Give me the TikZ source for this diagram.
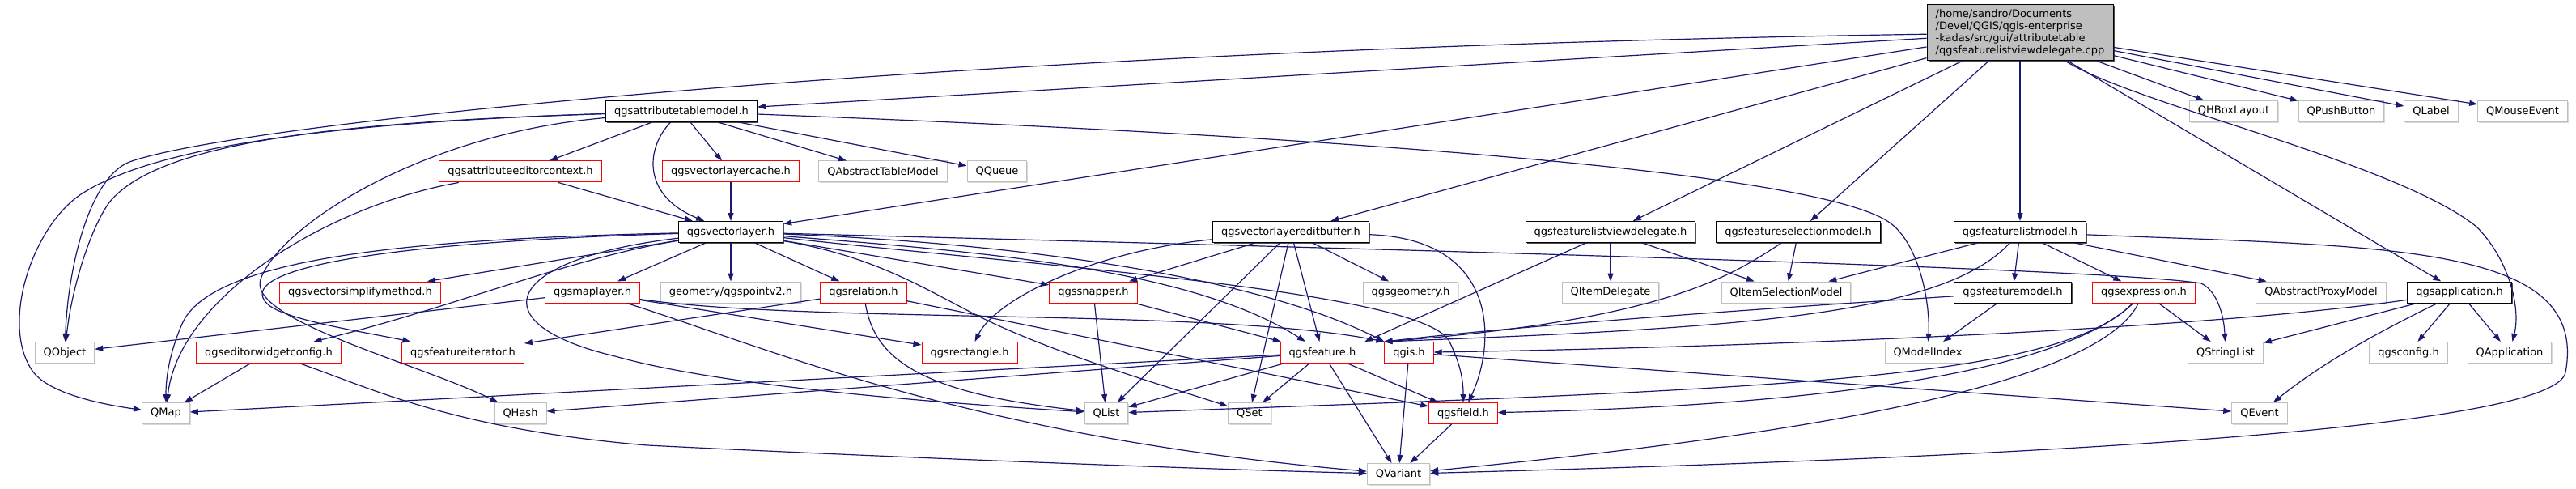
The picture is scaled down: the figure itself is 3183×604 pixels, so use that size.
\documentclass[tikz,border=0pt]{standalone}
\usepackage{fontspec}
\setmainfont{DejaVu Sans}
\usepackage{tikz}
\usetikzlibrary{positioning,arrows.meta,shadows}
\definecolor{edgecol}{RGB}{25,25,112}
\definecolor{srcfill}{RGB}{191,191,191}
\definecolor{extline}{RGB}{191,191,191}

\begin{document}
\begin{tikzpicture}[
  x=1pt, y=-1pt,
  every node/.style={font=\fontsize{13}{15}\selectfont},
  box/.style={rectangle, fill=white, minimum height=26pt, inner xsep=10.5pt, inner ysep=2pt, line width=1pt},
  hdr/.style={box, draw=black,
              drop shadow={shadow xshift=1.5pt, shadow yshift=-1.5pt, fill=black!70, opacity=1}},
  trunc/.style={box, draw=red},
  ext/.style={box, draw=extline,
              drop shadow={shadow xshift=1.2pt, shadow yshift=-1.2pt, fill=black!15, opacity=1}},
  src/.style={rectangle, draw=black, fill=srcfill, line width=1pt, align=left,
              minimum width=230pt, minimum height=69pt, inner xsep=10.5pt,
              drop shadow={shadow xshift=1.5pt, shadow yshift=-1.5pt, fill=black!70, opacity=1}},
  dep/.style={draw=edgecol, line width=1.2pt, -{Triangle[length=10pt,width=7pt]}}
]
  \useasboundingbox (0,0) rectangle (3183,604);

  \node[src] (cpp) at (2496,40.5) {/home/sandro/Documents\\/Devel/QGIS/qgis-enterprise\\-kadas/src/gui/attributetable\\/qgsfeaturelistviewdelegate.cpp};

  \node[hdr] (atm) at (842,137.5) {qgsattributetablemodel.h};
  \node[ext] (qhbox) at (2760,137.5) {QHBoxLayout};
  \node[ext] (qpush) at (2893,137.5) {QPushButton};
  \node[ext] (qlabel) at (3004,137.5) {QLabel};
  \node[ext] (qmouse) at (3117,137.5) {QMouseEvent};

  \node[trunc] (aec) at (643,212) {qgsattributeeditorcontext.h};
  \node[trunc] (vlc) at (903,212) {qgsvectorlayercache.h};
  \node[ext] (qatm) at (1091,212) {QAbstractTableModel};
  \node[ext] (qqueue) at (1232,212) {QQueue};

  \node[hdr] (vl) at (903,286.5) {qgsvectorlayer.h};
  \node[hdr] (vleb) at (1595,286.5) {qgsvectorlayereditbuffer.h};
  \node[hdr] (flvd) at (1990,286.5) {qgsfeaturelistviewdelegate.h};
  \node[hdr] (fsm) at (2222,286.5) {qgsfeatureselectionmodel.h};
  \node[hdr] (flm) at (2496,286.5) {qgsfeaturelistmodel.h};

  \node[trunc] (vsm) at (445,361) {qgsvectorsimplifymethod.h};
  \node[trunc] (ml) at (732,361) {qgsmaplayer.h};
  \node[ext] (pv2) at (903,361) {geometry/qgspointv2.h};
  \node[trunc] (rel) at (1067,361) {qgsrelation.h};
  \node[trunc] (snap) at (1351,361) {qgssnapper.h};
  \node[ext] (geom) at (1743,361) {qgsgeometry.h};
  \node[ext] (qidel) at (1990,361) {QItemDelegate};
  \node[ext] (qism) at (2207,361) {QItemSelectionModel};
  \node[hdr] (fm) at (2487,361) {qgsfeaturemodel.h};
  \node[trunc] (expr) at (2649,361) {qgsexpression.h};
  \node[ext] (qapm) at (2868,361) {QAbstractProxyModel};
  \node[hdr] (app) at (3039,361) {qgsapplication.h};

  \node[ext] (qobj) at (80,435.5) {QObject};
  \node[trunc] (ewc) at (332,435.5) {qgseditorwidgetconfig.h};
  \node[trunc] (fi) at (572,435.5) {qgsfeatureiterator.h};
  \node[trunc] (rect) at (1198,435.5) {qgsrectangle.h};
  \node[trunc] (feat) at (1634,435.5) {qgsfeature.h};
  \node[trunc] (qgis) at (1741,435.5) {qgis.h};
  \node[ext] (qmi) at (2382,435.5) {QModelIndex};
  \node[ext] (qsl) at (2750,435.5) {QStringList};
  \node[ext] (cfg) at (2976,435.5) {qgsconfig.h};
  \node[ext] (qapp) at (3101,435.5) {QApplication};

  \node[ext] (qmap) at (205,510.5) {QMap};
  \node[ext] (qhash) at (643,510.5) {QHash};
  \node[ext] (qlist) at (1367,510.5) {QList};
  \node[ext] (qset) at (1544,510.5) {QSet};
  \node[trunc] (field) at (1808,510.5) {qgsfield.h};
  \node[ext] (qevent) at (2792,510.5) {QEvent};

  \node[ext] (qvar) at (1728,585.5) {QVariant};

  \draw[dep] (cpp) .. controls (1200,60) and (300,150) .. (160,200) .. controls (110,220) and (84,330) .. (qobj);
  \draw[dep] (cpp) -- (atm);
  \draw[dep] (cpp) -- (vl);
  \draw[dep] (cpp) -- (vleb);
  \draw[dep] (cpp) -- (flvd);
  \draw[dep] (cpp) -- (fsm);
  \draw[dep] (cpp) -- (flm);
  \draw[dep] (cpp) -- (app);
  \draw[dep] (cpp) .. controls (2640,130) and (2960,200) .. (3060,280) .. controls (3100,320) and (3115,380) .. (qapp);
  \draw[dep] (cpp) -- (qhbox);
  \draw[dep] (cpp) -- (qpush);
  \draw[dep] (cpp) -- (qlabel);
  \draw[dep] (cpp) -- (qmouse);

  \draw[dep] (atm) .. controls (450,150) and (200,175) .. (100,240) .. controls (40,280) and (0,400) .. (40,458) .. controls (60,487) and (130,500) .. (qmap);
  \draw[dep] (atm) .. controls (450,150) and (200,170) .. (135,250) .. controls (110,285) and (88,360) .. (qobj);
  \draw[dep] (atm) .. controls (520,165) and (345,280) .. (322,345) .. controls (305,395) and (520,450) .. (qhash);
  \draw[dep] (atm) -- (aec);
  \draw[dep] (atm) .. controls (800,180) and (790,240) .. (vl);
  \draw[dep] (atm) -- (vlc);
  \draw[dep] (atm) -- (qatm);
  \draw[dep] (atm) -- (qqueue);
  \draw[dep] (atm) .. controls (1700,170) and (2250,215) .. (2335,275) .. controls (2370,300) and (2385,370) .. (qmi);

  \draw[dep] (aec) -- (vl);
  \draw[dep] (aec) .. controls (400,255) and (220,370) .. (qmap);
  \draw[dep] (vlc) -- (vl);

  \draw[dep] (vl) .. controls (500,295) and (260,320) .. (225,400) .. controls (212,430) and (205,460) .. (qmap);
  \draw[dep] (vl) -- (vsm);
  \draw[dep] (vl) .. controls (700,320) and (560,380) .. (ewc);
  \draw[dep] (vl) .. controls (450,300) and (290,335) .. (330,375) .. controls (350,395) and (450,410) .. (fi);
  \draw[dep] (vl) .. controls (620,320) and (590,400) .. (760,440) .. controls (900,480) and (1200,500) .. (qlist);
  \draw[dep] (vl) -- (ml);
  \draw[dep] (vl) -- (pv2);
  \draw[dep] (vl) -- (rel);
  \draw[dep] (vl) -- (snap);
  \draw[dep] (vl) .. controls (1200,310) and (1470,330) .. (feat);
  \draw[dep] (vl) .. controls (1250,300) and (1550,340) .. (qgis.north west);
  \draw[dep] (vl) .. controls (1300,330) and (1750,360) .. (1790,420) .. controls (1805,450) and (1808,470) .. (field);
  \draw[dep] (vl) .. controls (1100,320) and (1160,370) .. (1240,405) .. controls (1330,445) and (1450,480) .. (qset);
  \draw[dep] (vl) .. controls (1600,305) and (2600,330) .. (2720,350) .. controls (2740,360) and (2748,390) .. (qsl);

  \draw[dep] (vleb) .. controls (1350,310) and (1230,370) .. (rect);
  \draw[dep] (vleb) -- (snap);
  \draw[dep] (vleb) -- (qlist);
  \draw[dep] (vleb) -- (qset);
  \draw[dep] (vleb) -- (feat);
  \draw[dep] (vleb) -- (geom);
  \draw[dep] (vleb) .. controls (1850,295) and (1850,420) .. (field);

  \draw[dep] (flvd) -- (feat.north east);
  \draw[dep] (flvd) -- (qidel);
  \draw[dep] (flvd) -- (qism);

  \draw[dep] (fsm) -- (qism);
  \draw[dep] (fsm) .. controls (2140,340) and (2060,395) .. (qgis.north west);

  \draw[dep] (flm) -- (qism);
  \draw[dep] (flm) .. controls (2400,390) and (2150,405) .. (qgis.north west);
  \draw[dep] (flm) -- (fm);
  \draw[dep] (flm) -- (expr);
  \draw[dep] (flm) -- (qapm);
  \draw[dep] (flm) .. controls (2950,305) and (3200,300) .. (3170,460) .. controls (3155,540) and (2300,570) .. (qvar);

  \draw[dep] (fm) .. controls (2200,380) and (1900,400) .. (qgis.north west);
  \draw[dep] (fm) -- (qmi);

  \draw[dep] (expr) .. controls (2540,470) and (2200,480) .. (qlist);
  \draw[dep] (expr) .. controls (2560,450) and (2300,500) .. (field);
  \draw[dep] (expr) .. controls (2590,480) and (2200,540) .. (qvar);
  \draw[dep] (expr) -- (qsl);

  \draw[dep] (app) .. controls (2700,410) and (2100,430) .. (qgis);
  \draw[dep] (app) -- (qsl);
  \draw[dep] (app) .. controls (2960,400) and (2880,440) .. (qevent);
  \draw[dep] (app) -- (cfg);
  \draw[dep] (app) -- (qapp);

  \draw[dep] (ml) -- (qobj);
  \draw[dep] (ml) -- (rect);
  \draw[dep] (ml) .. controls (1000,400) and (1500,380) .. (qgis.north west);
  \draw[dep] (ml) .. controls (950,430) and (1200,540) .. (qvar);

  \draw[dep] (rel) -- (fi);
  \draw[dep] (rel) .. controls (1080,440) and (1130,485) .. (qlist);
  \draw[dep] (rel) -- (field);

  \draw[dep] (snap) -- (qlist);
  \draw[dep] (snap) -- (feat);

  \draw[dep] (ewc) -- (qmap);
  \draw[dep] (ewc) .. controls (460,480) and (560,530) .. (800,550) .. controls (1100,565) and (1500,580) .. (qvar);

  \draw[dep] (feat) -- (qmap);
  \draw[dep] (feat) -- (qhash);
  \draw[dep] (feat) -- (qlist);
  \draw[dep] (feat) -- (qset);
  \draw[dep] (feat) -- (field);
  \draw[dep] (feat) -- (qvar);

  \draw[dep] (qgis) -- (qvar);
  \draw[dep] (qgis) -- (qevent);
  \draw[dep] (field) -- (qvar);
\end{tikzpicture}
\end{document}
